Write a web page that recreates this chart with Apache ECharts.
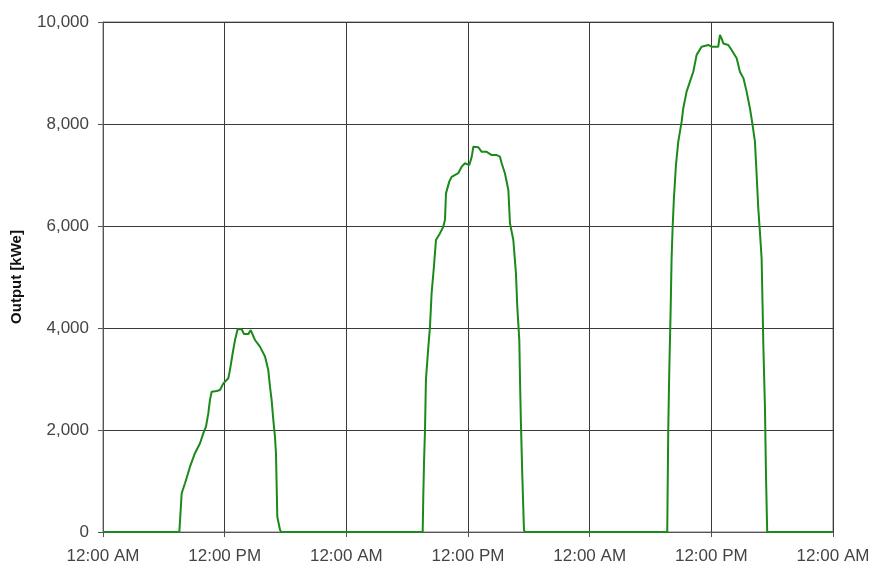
<!DOCTYPE html>
<html><head><meta charset="utf-8">
<script src="https://cdn.jsdelivr.net/npm/echarts@6/dist/echarts.min.js"></script>
<style>html,body{margin:0;padding:0;background:#fff}#c{width:876px;height:567px}</style>
</head><body><div id="c"></div>
<script>
// hours since start (0..72) and output in kWe
const hours = [0, 7.53, 7.76, 8.09, 8.58, 9.07, 9.57, 9.89, 10.16, 10.39, 10.55, 10.72, 11.21, 11.54, 11.87, 12.36, 12.52, 12.79, 13.02, 13.28, 13.68, 13.91, 14.33, 14.57, 14.99, 15.48, 15.98, 16.30, 16.47, 16.63, 16.80, 16.96, 17.06, 17.13, 17.19, 17.46, 17.6,
  31.53, 31.59, 31.66, 31.76, 31.85, 32.09, 32.25, 32.41, 32.64, 32.84, 33.23, 33.56, 33.73, 33.83, 34.15, 34.39, 35.04, 35.38, 35.70, 36.13, 36.37, 36.53, 37.01, 37.35, 37.84, 38.34, 38.83, 39.15, 39.32, 39.64, 39.98, 40.14, 40.47, 40.73, 40.86, 41.06, 41.13, 41.22, 41.35, 41.45, 41.52, 41.6,
  55.65, 55.70, 55.75, 55.85, 55.99, 56.08, 56.18, 56.31, 56.51, 56.74, 57.07, 57.23, 57.56, 57.89, 58.22, 58.55, 59.04, 59.70, 60.03, 60.68, 60.85, 61.01, 61.18, 61.67, 62.00, 62.50, 62.82, 63.17, 63.48, 63.81, 64.07, 64.30, 64.47, 64.63, 64.79, 64.96, 65.06, 65.12, 65.29, 65.39, 65.51, 72];
const outputKWe = [0, 0, 760, 955, 1280, 1545, 1740, 1935, 2065, 2330, 2590, 2750, 2765, 2785, 2915, 3015, 3175, 3505, 3765, 3975, 3975, 3880, 3880, 3960, 3765, 3635, 3440, 3175, 2850, 2590, 2195, 1870, 1545, 890, 300, 40, 0,
  0, 690, 1345, 2000, 2980, 3635, 4025, 4680, 5205, 5725, 5855, 5985, 6120, 6640, 6870, 6965, 7035, 7165, 7230, 7195, 7360, 7555, 7545, 7455, 7455, 7390, 7390, 7360, 7230, 7035, 6705, 6055, 5725, 5070, 4420, 3765, 2980, 2130, 1150, 495, 40, 0,
  0, 0, 2000, 3145, 4385, 5365, 5955, 6545, 7195, 7655, 8045, 8305, 8635, 8830, 9025, 9355, 9515, 9550, 9515, 9515, 9745, 9680, 9580, 9550, 9450, 9290, 9025, 8895, 8635, 8305, 7980, 7655, 7000, 6345, 5890, 5365, 4385, 3730, 2425, 1120, 0, 0];
const xTickLabels = ['12:00 AM', '12:00 PM', '12:00 AM', '12:00 PM', '12:00 AM', '12:00 PM', '12:00 AM'];
const yAxisName = 'Output [kWe]';

const chart = echarts.init(document.getElementById('c'), null, {renderer: 'canvas'});
const gridColor = '#3a3a3a';
const font = 'Liberation Sans, Arial, sans-serif';
chart.setOption({
  animation: false,
  backgroundColor: '#fff',
  grid: {left: 103, right: 43, top: 22, bottom: 35, show: true, borderColor: '#777', borderWidth: 1},
  xAxis: {
    type: 'value', min: 0, max: 72, interval: 12,
    axisLine: {show: true, lineStyle: {color: '#555', width: 1}},
    axisTick: {show: true, length: 5, lineStyle: {color: '#555'}},
    splitLine: {show: true, lineStyle: {color: gridColor, width: 1}},
    axisLabel: {
      color: '#444', fontFamily: font, fontSize: 17, margin: 16,
      formatter: v => xTickLabels[Math.round(v / 12)]
    }
  },
  yAxis: {
    type: 'value', min: 0, max: 10000, interval: 2000,
    name: yAxisName, nameLocation: 'middle', nameGap: 79, nameRotate: 90,
    nameTextStyle: {color: '#111', fontWeight: 'bold', fontSize: 15, fontFamily: font},
    axisLine: {show: true, lineStyle: {color: '#555', width: 1}},
    axisTick: {show: true, length: 5, lineStyle: {color: '#555'}},
    splitLine: {show: true, lineStyle: {color: gridColor, width: 1}},
    axisLabel: {
      color: '#444', fontFamily: font, fontSize: 17, margin: 14,
      formatter: v => v.toLocaleString('en-US')
    }
  },
  series: [{
    type: 'line', showSymbol: false, symbol: 'none',
    data: hours.map((h, i) => [h, outputKWe[i]]),
    lineStyle: {color: '#1a8a1a', width: 2},
    z: 5
  }]
});
</script></body></html>
